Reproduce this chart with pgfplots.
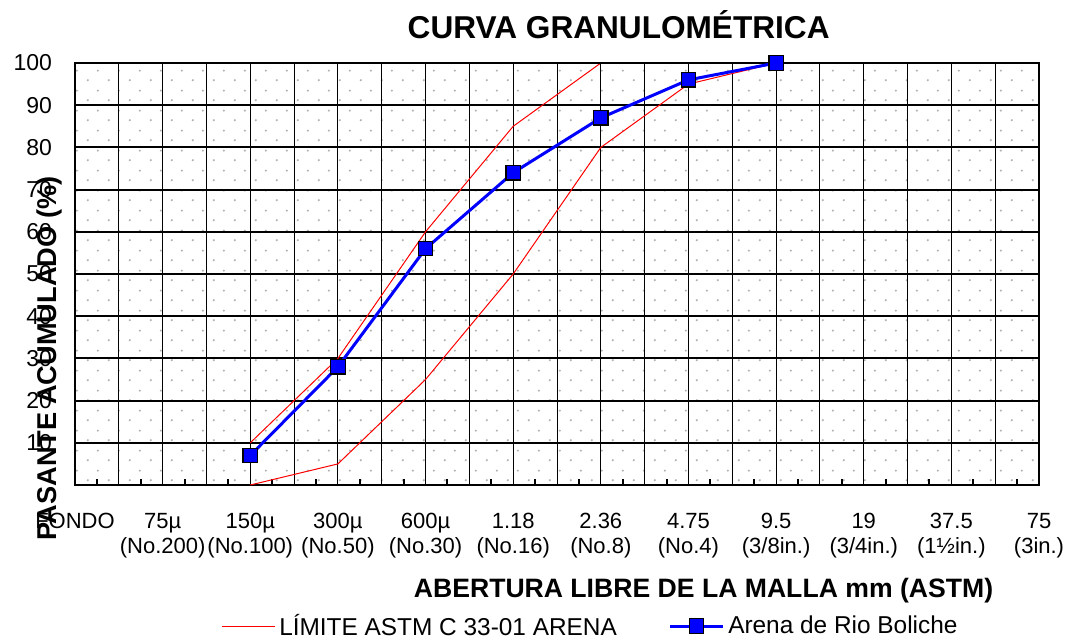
\documentclass[border=0pt]{standalone}
\usepackage{fontspec}
\setmainfont{Liberation Sans}
\usepackage{pgfplots}
\pgfplotsset{compat=1.18}
\usetikzlibrary{calc,patterns.meta}

\tikzdeclarepattern{
  name=griddots,
  type=uncolored,
  bounding box={(0,0) and (10.5pt,10pt)},
  tile size={(10.5pt,10pt)},
  code={
    \fill (2pt,2pt) circle (0.6pt);
    \fill (7.25pt,7pt) circle (0.6pt);
  }
}

\begin{document}
\begin{tikzpicture}
\begin{axis}[
    scale only axis,
    width=482pt, height=211pt,
    xmin=0, xmax=11,
    ymin=0, ymax=100,
    xtick={0,...,11},
    xticklabels={FONDO, 75µ\\(No.200), 150µ\\(No.100), 300µ\\(No.50), 600µ\\(No.30),
                 1.18\\(No.16), 2.36\\(No.8), 4.75\\(No.4), 9.5\\(3/8in.),
                 19\\(3/4in.), 37.5\\(1½in.), 75\\(3in.)},
    xticklabel style={align=center, font=\fontsize{11}{12.5}\selectfont, yshift=-10.5pt},
    minor x tick num=1,
    extra x ticks={0.25,0.75,...,10.75},
    extra x tick labels={},
    extra x tick style={grid=none, major tick length=3pt,
        tick style={line width=1pt, black}},
    ytick={10,20,...,100},
    yticklabel style={font=\fontsize{11.5}{12}\selectfont, xshift=-8pt},
    /pgf/number format/assume math mode=true,
    tick pos=left,
    tick align=inside,
    major tick length=0pt,
    minor tick length=0pt,
    xmajorgrids, xminorgrids, ymajorgrids,
    major x grid style={black, line width=0.5pt},
    minor x grid style={black, line width=0.5pt},
    major y grid style={black, line width=1pt},
    axis line style={line width=1.3pt},
    axis background/.style={fill=white, postaction={pattern=griddots, pattern color=gray!60}},
    title={CURVA GRANULOMÉTRICA},
    title style={font=\fontsize{15.8}{18}\selectfont\bfseries,
        at={(axis description cs:0.564,1)}, anchor=center, yshift=13pt},
    xlabel={ABERTURA LIBRE DE LA MALLA mm (ASTM)},
    xlabel style={font=\fontsize{13.3}{15}\selectfont\bfseries,
        at={(axis description cs:0.652,0)}, anchor=center, yshift=-53pt},
    ylabel={PASANTE ACUMULADO (\%)},
    ylabel style={font=\fontsize{13.6}{16}\selectfont\bfseries,
        at={(axis description cs:-0.026,0.30)}, anchor=center},
    legend style={font=\fontsize{12.2}{13}\selectfont, draw=none, fill=none,
        at={(axis description cs:0.536,0)}, anchor=center, yshift=-70.5pt,
        legend columns=2,
        /tikz/every even column/.append style={column sep=24pt}},
    legend image code/.code={
        \draw[mark repeat=2, mark phase=2] plot coordinates {(0cm,0cm)(0.46cm,0cm)(0.92cm,0cm)};},
]
% limites ASTM C 33
\addplot[red, line width=0.5pt] coordinates {(2,10)(3,30)(4,60)(5,85)(6,100)(7,100)(8,100)};
\addlegendentry{LÍMITE ASTM C 33-01 ARENA}
\addplot[red, line width=0.5pt, forget plot] coordinates {(2,0)(3,5)(4,25)(5,50)(6,80)(7,95)(8,100)};
% borde superior sobre el limite
\draw[line width=1.3pt] (rel axis cs:0,1) -- (rel axis cs:1,1);
% muestra
\addplot[blue, line width=1.5pt, mark=square*,
    mark options={fill=blue, draw=black, line width=0.6pt, mark size=3.6pt}]
    coordinates {(2,7)(3,28)(4,56)(5,74)(6,87)(7,96)(8,100)};
\addlegendentry{Arena de Rio Boliche}
\coordinate (O) at (rel axis cs:0,0);
\end{axis}
\pgfresetboundingbox
\path[use as bounding box] ($(O)+(-37.5pt,-79pt)$) rectangle ($(O)+(497pt,242.5pt)$);
\end{tikzpicture}
\end{document}
